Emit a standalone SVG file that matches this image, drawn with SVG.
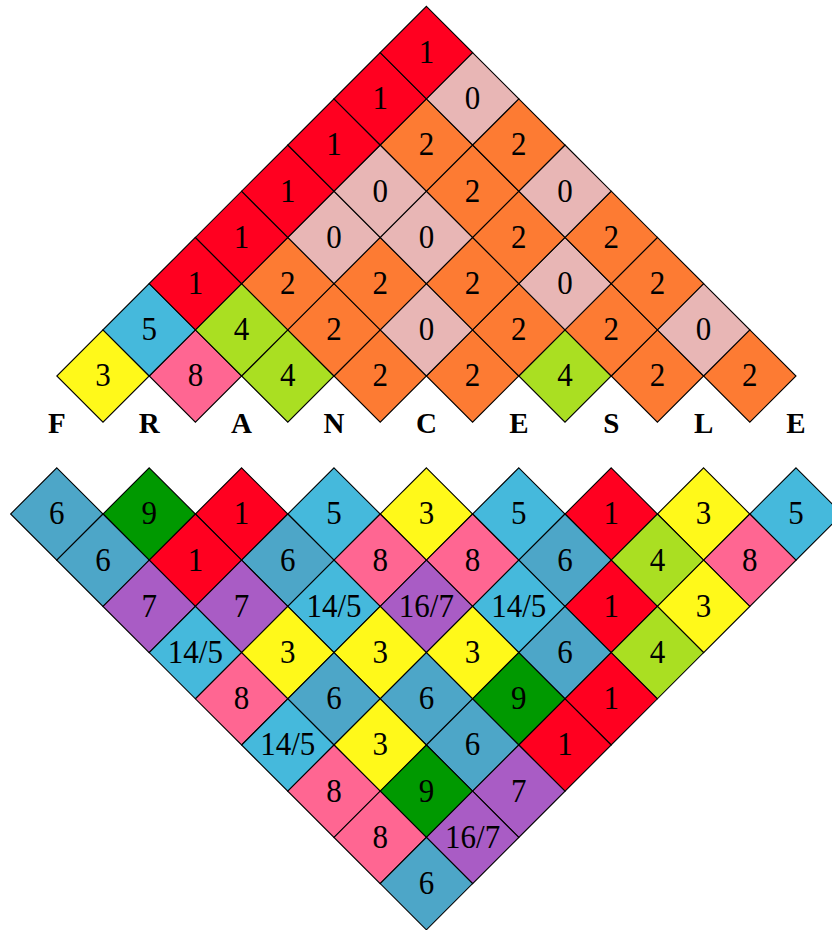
<svg xmlns="http://www.w3.org/2000/svg" xmlns:xlink="http://www.w3.org/1999/xlink" width="832" height="930" viewBox="0 0 832 930">
<style>
.R{fill:#ff0020}.Z{fill:#e8b6b5}.O{fill:#fd7b33}.G{fill:#aadf22}.Y{fill:#fff91a}.P{fill:#ff6692}.B{fill:#45b9dc}.S{fill:#4da6c8}.N{fill:#009900}.V{fill:#a95cc5}
text{font-family:"Liberation Serif","Times New Roman",serif;font-size:31px;text-anchor:middle;fill:#000}
g g text{transform:scale(1,1.07)}
.lt{font-weight:bold;font-size:29px}
</style>
<defs>
<path id="d" d="M0,-46.2L46.2,0L0,46.2L-46.2,0Z" stroke="#000" stroke-width="1.1" stroke-linejoin="miter"/>
</defs>
<g id="top">
<g id="t0-1" transform="translate(103,376)"><use xlink:href="#d" class="Y"/><text y="9.8">3</text></g>
<g id="t0-3" transform="translate(195.4,376)"><use xlink:href="#d" class="P"/><text y="9.8">8</text></g>
<g id="t0-5" transform="translate(287.8,376)"><use xlink:href="#d" class="G"/><text y="9.8">4</text></g>
<g id="t0-7" transform="translate(380.2,376)"><use xlink:href="#d" class="O"/><text y="9.8">2</text></g>
<g id="t0-9" transform="translate(472.6,376)"><use xlink:href="#d" class="O"/><text y="9.8">2</text></g>
<g id="t0-11" transform="translate(565,376)"><use xlink:href="#d" class="G"/><text y="9.8">4</text></g>
<g id="t0-13" transform="translate(657.4,376)"><use xlink:href="#d" class="O"/><text y="9.8">2</text></g>
<g id="t0-15" transform="translate(749.8,376)"><use xlink:href="#d" class="O"/><text y="9.8">2</text></g>

<g id="t1-2" transform="translate(149.2,329.8)"><use xlink:href="#d" class="B"/><text y="9.8">5</text></g>
<g id="t1-4" transform="translate(241.6,329.8)"><use xlink:href="#d" class="G"/><text y="9.8">4</text></g>
<g id="t1-6" transform="translate(334,329.8)"><use xlink:href="#d" class="O"/><text y="9.8">2</text></g>
<g id="t1-8" transform="translate(426.4,329.8)"><use xlink:href="#d" class="Z"/><text y="9.8">0</text></g>
<g id="t1-10" transform="translate(518.8,329.8)"><use xlink:href="#d" class="O"/><text y="9.8">2</text></g>
<g id="t1-12" transform="translate(611.2,329.8)"><use xlink:href="#d" class="O"/><text y="9.8">2</text></g>
<g id="t1-14" transform="translate(703.6,329.8)"><use xlink:href="#d" class="Z"/><text y="9.8">0</text></g>

<g id="t2-3" transform="translate(195.4,283.6)"><use xlink:href="#d" class="R"/><text y="9.8">1</text></g>
<g id="t2-5" transform="translate(287.8,283.6)"><use xlink:href="#d" class="O"/><text y="9.8">2</text></g>
<g id="t2-7" transform="translate(380.2,283.6)"><use xlink:href="#d" class="O"/><text y="9.8">2</text></g>
<g id="t2-9" transform="translate(472.6,283.6)"><use xlink:href="#d" class="O"/><text y="9.8">2</text></g>
<g id="t2-11" transform="translate(565,283.6)"><use xlink:href="#d" class="Z"/><text y="9.8">0</text></g>
<g id="t2-13" transform="translate(657.4,283.6)"><use xlink:href="#d" class="O"/><text y="9.8">2</text></g>

<g id="t3-4" transform="translate(241.6,237.4)"><use xlink:href="#d" class="R"/><text y="9.8">1</text></g>
<g id="t3-6" transform="translate(334,237.4)"><use xlink:href="#d" class="Z"/><text y="9.8">0</text></g>
<g id="t3-8" transform="translate(426.4,237.4)"><use xlink:href="#d" class="Z"/><text y="9.8">0</text></g>
<g id="t3-10" transform="translate(518.8,237.4)"><use xlink:href="#d" class="O"/><text y="9.8">2</text></g>
<g id="t3-12" transform="translate(611.2,237.4)"><use xlink:href="#d" class="O"/><text y="9.8">2</text></g>

<g id="t4-5" transform="translate(287.8,191.2)"><use xlink:href="#d" class="R"/><text y="9.8">1</text></g>
<g id="t4-7" transform="translate(380.2,191.2)"><use xlink:href="#d" class="Z"/><text y="9.8">0</text></g>
<g id="t4-9" transform="translate(472.6,191.2)"><use xlink:href="#d" class="O"/><text y="9.8">2</text></g>
<g id="t4-11" transform="translate(565,191.2)"><use xlink:href="#d" class="Z"/><text y="9.8">0</text></g>

<g id="t5-6" transform="translate(334,145)"><use xlink:href="#d" class="R"/><text y="9.8">1</text></g>
<g id="t5-8" transform="translate(426.4,145)"><use xlink:href="#d" class="O"/><text y="9.8">2</text></g>
<g id="t5-10" transform="translate(518.8,145)"><use xlink:href="#d" class="O"/><text y="9.8">2</text></g>

<g id="t6-7" transform="translate(380.2,98.8)"><use xlink:href="#d" class="R"/><text y="9.8">1</text></g>
<g id="t6-9" transform="translate(472.6,98.8)"><use xlink:href="#d" class="Z"/><text y="9.8">0</text></g>

<g id="t7-8" transform="translate(426.4,52.6)"><use xlink:href="#d" class="R"/><text y="9.8">1</text></g>
</g>

<g id="letters">
<text class="lt" x="56.8" y="433">F</text>
<text class="lt" x="149.2" y="433">R</text>
<text class="lt" x="241.6" y="433">A</text>
<text class="lt" x="334" y="433">N</text>
<text class="lt" x="426.4" y="433">C</text>
<text class="lt" x="518.8" y="433">E</text>
<text class="lt" x="611.2" y="433">S</text>
<text class="lt" x="703.6" y="433">L</text>
<text class="lt" x="796" y="433">E</text>
</g>

<g id="bottom">
<g id="b0-0" transform="translate(56.8,514)"><use xlink:href="#d" class="S"/><text y="9.8">6</text></g>
<g id="b0-2" transform="translate(149.2,514)"><use xlink:href="#d" class="N"/><text y="9.8">9</text></g>
<g id="b0-4" transform="translate(241.6,514)"><use xlink:href="#d" class="R"/><text y="9.8">1</text></g>
<g id="b0-6" transform="translate(334,514)"><use xlink:href="#d" class="B"/><text y="9.8">5</text></g>
<g id="b0-8" transform="translate(426.4,514)"><use xlink:href="#d" class="Y"/><text y="9.8">3</text></g>
<g id="b0-10" transform="translate(518.8,514)"><use xlink:href="#d" class="B"/><text y="9.8">5</text></g>
<g id="b0-12" transform="translate(611.2,514)"><use xlink:href="#d" class="R"/><text y="9.8">1</text></g>
<g id="b0-14" transform="translate(703.6,514)"><use xlink:href="#d" class="Y"/><text y="9.8">3</text></g>
<g id="b0-16" transform="translate(796,514)"><use xlink:href="#d" class="B"/><text y="9.8">5</text></g>

<g id="b1-1" transform="translate(103,560.2)"><use xlink:href="#d" class="S"/><text y="9.8">6</text></g>
<g id="b1-3" transform="translate(195.4,560.2)"><use xlink:href="#d" class="R"/><text y="9.8">1</text></g>
<g id="b1-5" transform="translate(287.8,560.2)"><use xlink:href="#d" class="S"/><text y="9.8">6</text></g>
<g id="b1-7" transform="translate(380.2,560.2)"><use xlink:href="#d" class="P"/><text y="9.8">8</text></g>
<g id="b1-9" transform="translate(472.6,560.2)"><use xlink:href="#d" class="P"/><text y="9.8">8</text></g>
<g id="b1-11" transform="translate(565,560.2)"><use xlink:href="#d" class="S"/><text y="9.8">6</text></g>
<g id="b1-13" transform="translate(657.4,560.2)"><use xlink:href="#d" class="G"/><text y="9.8">4</text></g>
<g id="b1-15" transform="translate(749.8,560.2)"><use xlink:href="#d" class="P"/><text y="9.8">8</text></g>

<g id="b2-2" transform="translate(149.2,606.4)"><use xlink:href="#d" class="V"/><text y="9.8">7</text></g>
<g id="b2-4" transform="translate(241.6,606.4)"><use xlink:href="#d" class="V"/><text y="9.8">7</text></g>
<g id="b2-6" transform="translate(334,606.4)"><use xlink:href="#d" class="B"/><text y="9.8">14/5</text></g>
<g id="b2-8" transform="translate(426.4,606.4)"><use xlink:href="#d" class="V"/><text y="9.8">16/7</text></g>
<g id="b2-10" transform="translate(518.8,606.4)"><use xlink:href="#d" class="B"/><text y="9.8">14/5</text></g>
<g id="b2-12" transform="translate(611.2,606.4)"><use xlink:href="#d" class="R"/><text y="9.8">1</text></g>
<g id="b2-14" transform="translate(703.6,606.4)"><use xlink:href="#d" class="Y"/><text y="9.8">3</text></g>

<g id="b3-3" transform="translate(195.4,652.6)"><use xlink:href="#d" class="B"/><text y="9.8">14/5</text></g>
<g id="b3-5" transform="translate(287.8,652.6)"><use xlink:href="#d" class="Y"/><text y="9.8">3</text></g>
<g id="b3-7" transform="translate(380.2,652.6)"><use xlink:href="#d" class="Y"/><text y="9.8">3</text></g>
<g id="b3-9" transform="translate(472.6,652.6)"><use xlink:href="#d" class="Y"/><text y="9.8">3</text></g>
<g id="b3-11" transform="translate(565,652.6)"><use xlink:href="#d" class="S"/><text y="9.8">6</text></g>
<g id="b3-13" transform="translate(657.4,652.6)"><use xlink:href="#d" class="G"/><text y="9.8">4</text></g>

<g id="b4-4" transform="translate(241.6,698.8)"><use xlink:href="#d" class="P"/><text y="9.8">8</text></g>
<g id="b4-6" transform="translate(334,698.8)"><use xlink:href="#d" class="S"/><text y="9.8">6</text></g>
<g id="b4-8" transform="translate(426.4,698.8)"><use xlink:href="#d" class="S"/><text y="9.8">6</text></g>
<g id="b4-10" transform="translate(518.8,698.8)"><use xlink:href="#d" class="N"/><text y="9.8">9</text></g>
<g id="b4-12" transform="translate(611.2,698.8)"><use xlink:href="#d" class="R"/><text y="9.8">1</text></g>

<g id="b5-5" transform="translate(287.8,745)"><use xlink:href="#d" class="B"/><text y="9.8">14/5</text></g>
<g id="b5-7" transform="translate(380.2,745)"><use xlink:href="#d" class="Y"/><text y="9.8">3</text></g>
<g id="b5-9" transform="translate(472.6,745)"><use xlink:href="#d" class="S"/><text y="9.8">6</text></g>
<g id="b5-11" transform="translate(565,745)"><use xlink:href="#d" class="R"/><text y="9.8">1</text></g>

<g id="b6-6" transform="translate(334,791.2)"><use xlink:href="#d" class="P"/><text y="9.8">8</text></g>
<g id="b6-8" transform="translate(426.4,791.2)"><use xlink:href="#d" class="N"/><text y="9.8">9</text></g>
<g id="b6-10" transform="translate(518.8,791.2)"><use xlink:href="#d" class="V"/><text y="9.8">7</text></g>

<g id="b7-7" transform="translate(380.2,837.4)"><use xlink:href="#d" class="P"/><text y="9.8">8</text></g>
<g id="b7-9" transform="translate(472.6,837.4)"><use xlink:href="#d" class="V"/><text y="9.8">16/7</text></g>

<g id="b8-8" transform="translate(426.4,883.6)"><use xlink:href="#d" class="S"/><text y="9.8">6</text></g>
</g>
<g id="connectors"/>
</svg>
